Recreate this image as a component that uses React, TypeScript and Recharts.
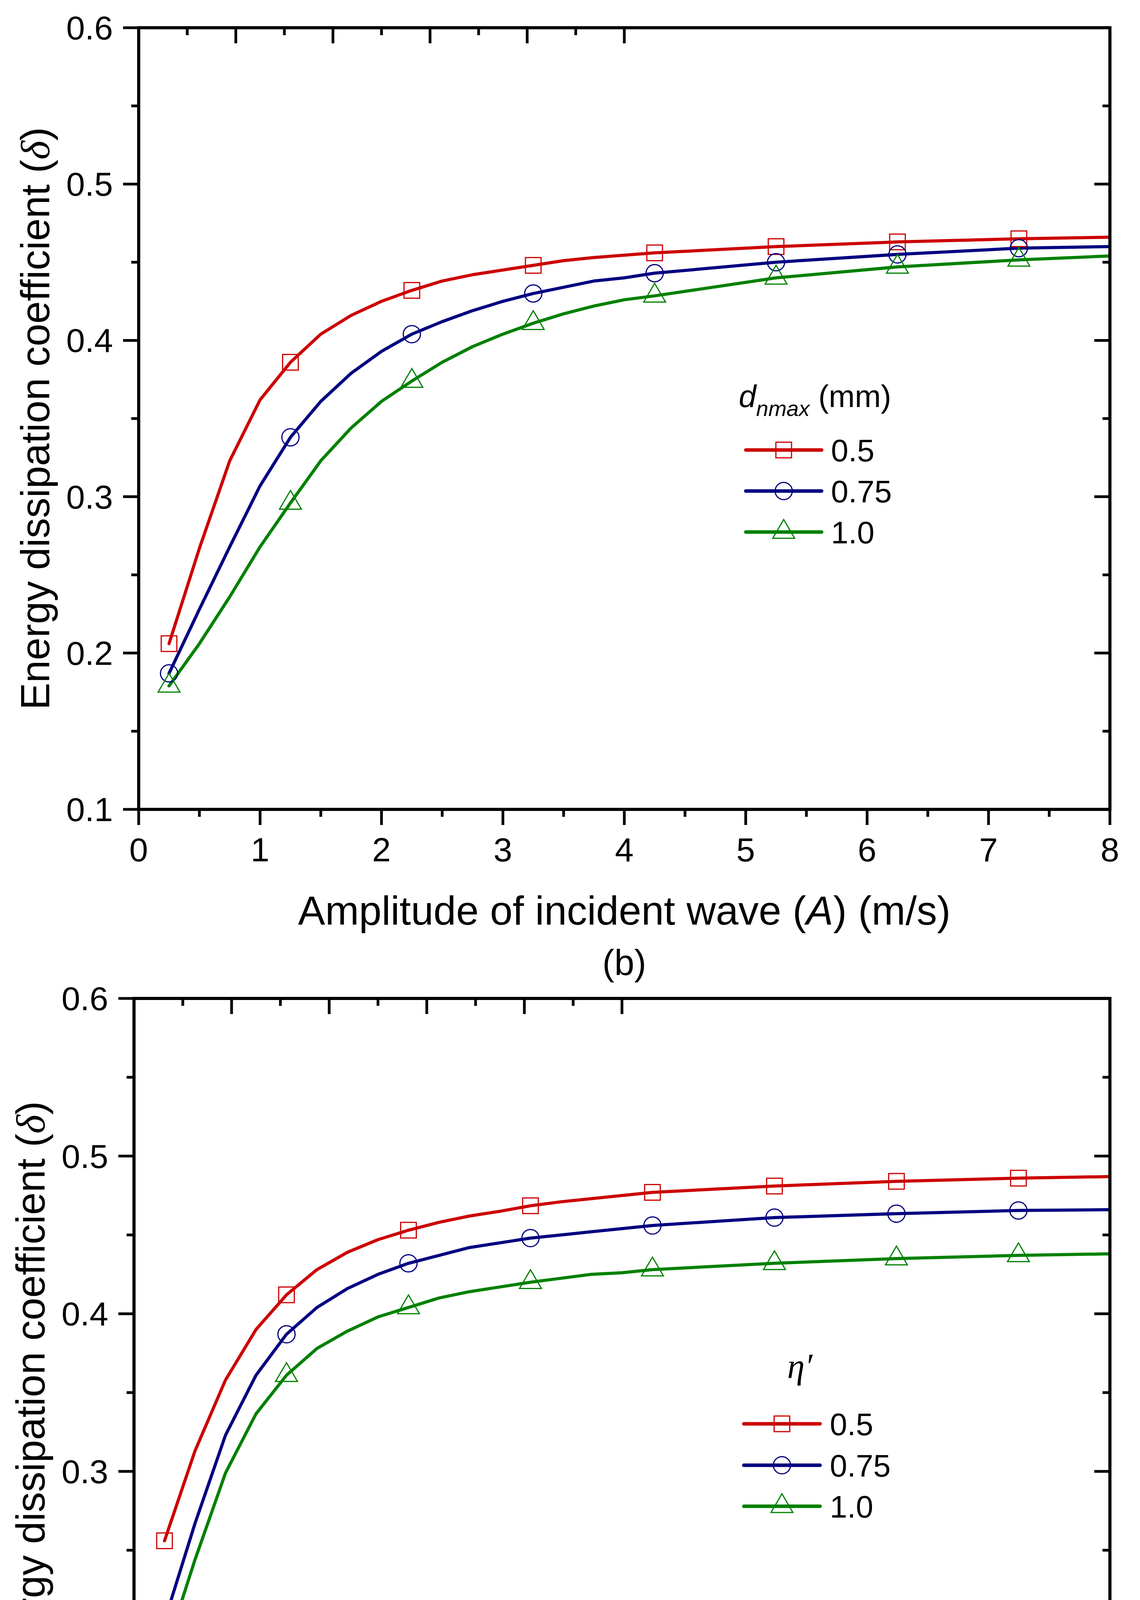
import React from 'react';
import { LineChart, Line, XAxis, YAxis, Legend, Label } from 'recharts';

const FONT = '"Liberation Sans", Arial, Helvetica, sans-serif';
const SERIF = '"Liberation Serif", "Times New Roman", serif';

// amplitude of incident wave (m/s)
const amplitude = [0.25, 0.5, 0.75, 1.0, 1.25, 1.5, 1.75, 2.0, 2.25, 2.5, 2.75, 3.0, 3.25, 3.5, 3.75, 4.0, 4.25, 5.25, 6.25, 7.25, 8.0];
const markerAmplitude = [0.25, 1.25, 2.25, 3.25, 4.25, 5.25, 6.25, 7.25];

// (b) d_nmax
const dnmaxHalf = [0.206, 0.267, 0.323, 0.362, 0.386, 0.404, 0.416, 0.425, 0.432, 0.438, 0.442, 0.445, 0.448, 0.451, 0.453, 0.4545, 0.456, 0.46, 0.463, 0.465, 0.466];
const dnmaxThreeQuarter = [0.187, 0.228, 0.268, 0.307, 0.338, 0.361, 0.379, 0.393, 0.404, 0.412, 0.419, 0.425, 0.43, 0.434, 0.438, 0.44, 0.443, 0.45, 0.455, 0.459, 0.46];
const dnmaxOne = [0.179, 0.206, 0.236, 0.268, 0.296, 0.323, 0.344, 0.361, 0.374, 0.386, 0.396, 0.404, 0.411, 0.417, 0.422, 0.426, 0.4285, 0.44, 0.447, 0.4515, 0.454];

// (c) eta'
const etaHalf = [0.256, 0.313, 0.358, 0.39, 0.412, 0.428, 0.439, 0.447, 0.453, 0.458, 0.462, 0.465, 0.4685, 0.471, 0.473, 0.475, 0.477, 0.481, 0.484, 0.486, 0.487];
const etaThreeQuarter = [0.205, 0.267, 0.323, 0.361, 0.387, 0.404, 0.416, 0.425, 0.432, 0.437, 0.442, 0.445, 0.448, 0.45, 0.452, 0.454, 0.456, 0.461, 0.4635, 0.4655, 0.466];
const etaOne = [0.184, 0.244, 0.299, 0.3365, 0.361, 0.378, 0.389, 0.398, 0.404, 0.41, 0.414, 0.417, 0.42, 0.4225, 0.425, 0.426, 0.428, 0.432, 0.435, 0.437, 0.438];

const seriesLabels = ['0.5', '0.75', '1.0'];
const seriesColors = ['#cc0000', '#000080', '#008000'];
const seriesShapes = ['square', 'circle', 'triangle'];

const xMajorTicks = [0, 1, 2, 3, 4, 5, 6, 7, 8];
const xMinorTicks = [0.5, 1.5, 2.5, 3.5, 4.5, 5.5, 6.5, 7.5];
const yMajorTicks = [0.1, 0.2, 0.3, 0.4, 0.5, 0.6];
const yMinorTicks = [0.15, 0.25, 0.35, 0.45, 0.55];
const topMajorTicks = [0, 2, 4, 6, 8, 10];
const topMinorTicks = [1, 3, 5, 7, 9];

const xTicks = [...xMajorTicks, ...xMinorTicks].sort((a, b) => a - b);
const yTicks = [...yMajorTicks, ...yMinorTicks].sort((a, b) => a - b);
const topTicks = [...topMajorTicks, ...topMinorTicks].sort((a, b) => a - b);

const MAJOR = 40;
const MINOR = 19;
const TICK_W = 7;
const AXIS = { stroke: '#000', strokeWidth: 8, strokeLinecap: 'square' as const };

const has = (arr: number[], v: number) => arr.some((t) => Math.abs(t - v) < 1e-9);

function BottomTick(props: any) {
  const { x, y, payload } = props;
  const major = has(xMajorTicks, payload.value);
  return (
    <g>
      <line x1={x} y1={y} x2={x} y2={y + (major ? MAJOR : MINOR)} stroke="#000" strokeWidth={TICK_W} />
      {major && (
        <text x={x} y={y + 133} textAnchor="middle" fontSize={86} fontFamily={FONT} fill="#000">
          {payload.value}
        </text>
      )}
    </g>
  );
}

function TopTick(props: any) {
  const { x, y, payload } = props;
  const major = has(topMajorTicks, payload.value);
  return <line x1={x} y1={y} x2={x} y2={y + (major ? MAJOR : MINOR)} stroke="#000" strokeWidth={TICK_W} />;
}

function LeftTick(props: any) {
  const { x, y, payload } = props;
  const major = has(yMajorTicks, payload.value);
  return (
    <g>
      <line x1={x} y1={y} x2={x - (major ? MAJOR : MINOR)} y2={y} stroke="#000" strokeWidth={TICK_W} />
      {major && (
        <text x={x - 66} y={y + 30} textAnchor="end" fontSize={86} fontFamily={FONT} fill="#000">
          {Number(payload.value).toFixed(1)}
        </text>
      )}
    </g>
  );
}

function RightTick(props: any) {
  const { x, y, payload } = props;
  const major = has(yMajorTicks, payload.value);
  return <line x1={x} y1={y} x2={x - (major ? MAJOR : MINOR)} y2={y} stroke="#000" strokeWidth={TICK_W} />;
}

function Marker({ shape, cx, cy, color }: { shape: string; cx: number; cy: number; color: string }) {
  if (shape === 'square') {
    return <rect x={cx - 20} y={cy - 20} width={40} height={40} fill="none" stroke={color} strokeWidth={3} />;
  }
  if (shape === 'circle') {
    return <circle cx={cx} cy={cy} r={22} fill="none" stroke={color} strokeWidth={3} />;
  }
  return (
    <polygon
      points={`${cx},${cy - 32} ${cx + 28},${cy + 16} ${cx - 28},${cy + 16}`}
      fill="none"
      stroke={color}
      strokeWidth={3}
    />
  );
}

const dotFor = (shape: string, color: string) => (props: any) => {
  const { cx, cy, payload, index } = props;
  if (!has(markerAmplitude, payload.A)) return <g key={`d${index}`} />;
  return (
    <g key={`d${index}`}>
      <Marker shape={shape} cx={cx} cy={cy} color={color} />
    </g>
  );
};

const xTitle = (tag: string) => (props: any) => {
  const vb = props.viewBox || {};
  const cx = vb.x + vb.width / 2;
  const top = vb.y;
  return (
    <g>
      <text x={cx} y={top + 295} textAnchor="middle" fontSize={104} fontFamily={FONT} fill="#000">
        Amplitude of incident wave (<tspan fontStyle="italic">A</tspan>) (m/s)
      </text>
      <text x={cx} y={top + 424} textAnchor="middle" fontSize={92} fontFamily={FONT} fill="#000">
        {tag}
      </text>
    </g>
  );
};

const yTitle = (props: any) => {
  const vb = props.viewBox || {};
  const cy = vb.y + vb.height / 2;
  const x = vb.x + vb.width - 229;
  return (
    <text
      x={x}
      y={cy}
      transform={`rotate(-90 ${x} ${cy})`}
      textAnchor="middle"
      fontSize={104}
      fontFamily={FONT}
      fill="#000"
    >
      Energy dissipation coefficient (<tspan fontFamily={SERIF} fontStyle="italic">δ</tspan>)
    </text>
  );
};

type LegendLayout = {
  left: number;
  top: number;
  rows: number[];
  lineX: [number, number];
  textX: number;
};

function LegendBox({ title, layout }: { title: React.ReactNode; layout: LegendLayout }) {
  return (
    <svg width={480} height={520} style={{ overflow: 'visible', display: 'block' }}>
      {title}
      {seriesLabels.map((name, i) => {
        const y = layout.rows[i];
        const mid = (layout.lineX[0] + layout.lineX[1]) / 2;
        return (
          <g key={name}>
            <line
              x1={layout.lineX[0]}
              y1={y}
              x2={layout.lineX[1]}
              y2={y}
              stroke={seriesColors[i]}
              strokeWidth={9}
              strokeLinecap="round"
            />
            <Marker shape={seriesShapes[i]} cx={mid} cy={y} color={seriesColors[i]} />
            <text x={layout.textX} y={y + 29} fontSize={80} fontFamily={FONT} fill="#000">
              {name}
            </text>
          </g>
        );
      })}
    </svg>
  );
}

type PanelProps = {
  top: number;
  height: number;
  plotLeft: number;
  plotTop: number;
  plotBottom: number;
  values: number[][];
  tag: string;
  legendTitle: React.ReactNode;
  legend: LegendLayout;
};

function Panel({ top, height, plotLeft, plotTop, plotBottom, values, tag, legendTitle, legend }: PanelProps) {
  const data = amplitude.map((A, i) => ({ A, s0: values[0][i], s1: values[1][i], s2: values[2][i] }));
  return (
    <div style={{ position: 'absolute', left: 0, top, width: 2918, height }}>
      <LineChart
        width={2918}
        height={height}
        data={data}
        margin={{ top: plotTop - 1, right: 76, bottom: 0, left: 0 }}
      >
        <XAxis
          xAxisId="bottom"
          dataKey="A"
          type="number"
          domain={[0, 8]}
          allowDataOverflow
          ticks={xTicks}
          interval={0}
          height={height - plotBottom}
          tickSize={0}
          tickMargin={0}
          tickLine={false}
          axisLine={AXIS}
          tick={<BottomTick />}
        >
          <Label content={xTitle(tag)} />
        </XAxis>
        <XAxis
          xAxisId="top"
          orientation="top"
          type="number"
          domain={[0, 10]}
          allowDataOverflow
          ticks={topTicks}
          interval={0}
          height={1}
          tickSize={0}
          tickMargin={0}
          tickLine={false}
          axisLine={AXIS}
          tick={<TopTick />}
        />
        <YAxis
          yAxisId="left"
          type="number"
          domain={[0.1, 0.6]}
          allowDataOverflow
          ticks={yTicks}
          interval={0}
          width={plotLeft}
          tickSize={0}
          tickMargin={0}
          tickLine={false}
          axisLine={AXIS}
          tick={<LeftTick />}
        >
          <Label content={yTitle} />
        </YAxis>
        <YAxis
          yAxisId="right"
          orientation="right"
          type="number"
          domain={[0.1, 0.6]}
          allowDataOverflow
          ticks={yTicks}
          interval={0}
          width={1}
          tickSize={0}
          tickMargin={0}
          tickLine={false}
          axisLine={AXIS}
          tick={<RightTick />}
        />
        {seriesLabels.map((name, i) => (
          <Line
            key={name}
            name={name}
            xAxisId="bottom"
            yAxisId="left"
            type="linear"
            dataKey={`s${i}`}
            stroke={seriesColors[i]}
            strokeWidth={8}
            strokeLinecap="round"
            strokeLinejoin="round"
            dot={dotFor(seriesShapes[i], seriesColors[i])}
            activeDot={false}
            isAnimationActive={false}
          />
        ))}
        <Legend
          layout="vertical"
          align="center"
          verticalAlign="middle"
          wrapperStyle={{ left: legend.left, top: legend.top, width: 480, height: 520 }}
          content={() => <LegendBox title={legendTitle} layout={legend} />}
        />
      </LineChart>
    </div>
  );
}

export default function App() {
  const dTitle = (
    <text x={31} y={82} fontSize={80} fontFamily={FONT} fill="#000">
      <tspan fontStyle="italic">d</tspan>
      <tspan fontStyle="italic" fontSize={56} dy={23}>
        nmax
      </tspan>
      <tspan dy={-23}> (mm)</tspan>
    </text>
  );
  const etaTitle = (
    <text x={155} y={128} fontSize={90} fontFamily={SERIF} fontStyle="italic" fill="#000">
      η′
    </text>
  );
  return (
    <div
      style={{
        position: 'relative',
        margin: -8,
        width: 2918,
        height: 5050,
        background: '#fff',
        overflow: 'hidden',
      }}
    >
      <Panel
        top={0}
        height={2545}
        plotLeft={355}
        plotTop={71}
        plotBottom={2072}
        values={[dnmaxHalf, dnmaxThreeQuarter, dnmaxOne]}
        tag="(b)"
        legendTitle={dTitle}
        legend={{ left: 1860, top: 960, rows: [192, 297, 402], lineX: [49, 243], textX: 267 }}
      />
      <Panel
        top={2512}
        height={2538}
        plotLeft={343}
        plotTop={44}
        plotBottom={2062}
        values={[etaHalf, etaThreeQuarter, etaOne]}
        tag="(c)"
        legendTitle={etaTitle}
        legend={{ left: 1860, top: 888, rows: [245, 351, 456], lineX: [44, 239], textX: 264 }}
      />
    </div>
  );
}
